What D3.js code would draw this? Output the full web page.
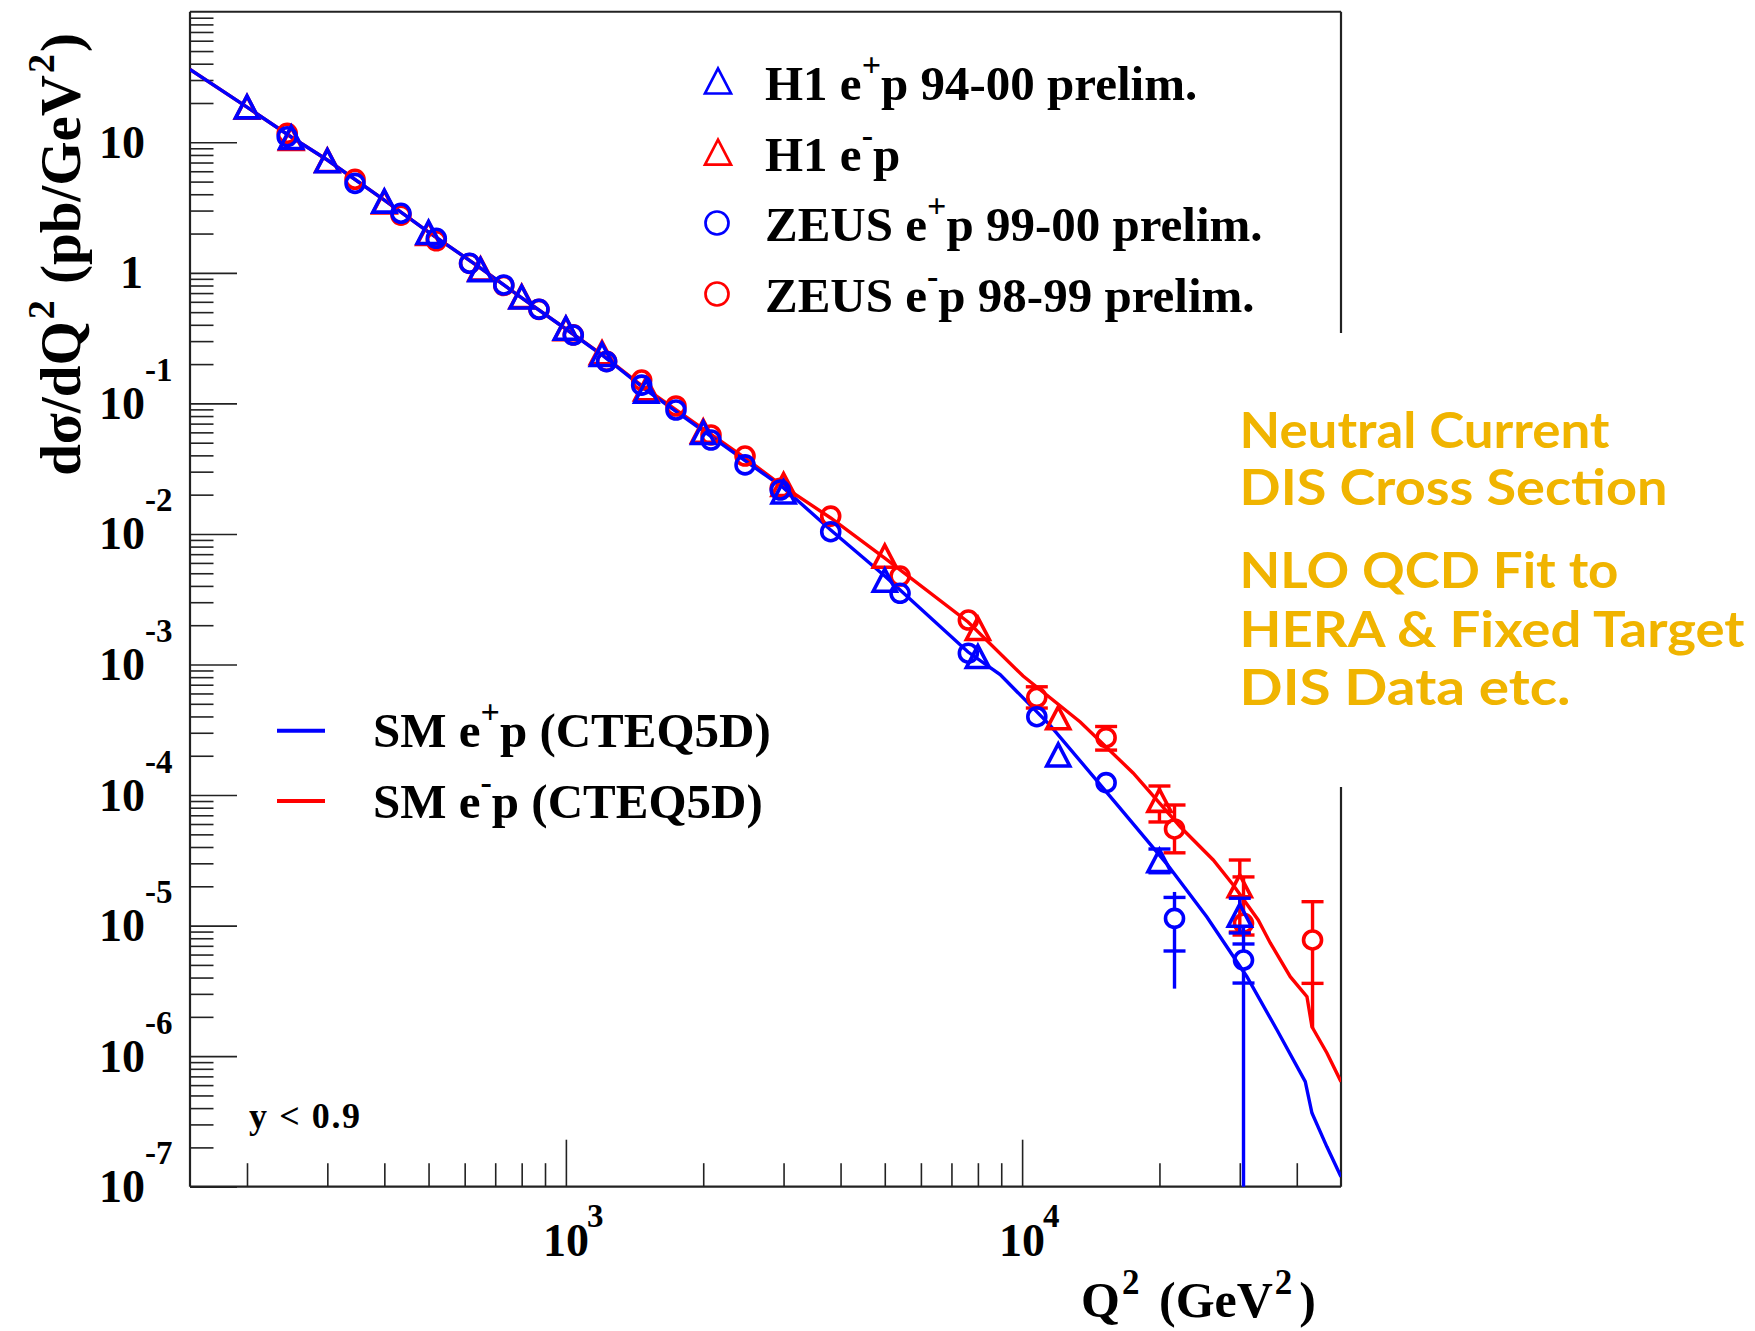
<!DOCTYPE html>
<html>
<head>
<meta charset="utf-8">
<script src="https://d3js.org/d3.v7.min.js"></script>
<style>
  body { margin: 0; background: #fff; }
  svg { display: block; }
  text { font-family: "Liberation Serif", "Times New Roman", serif; font-weight: bold; fill: #000; }
  .note { font-family: "Comic Sans MS", "Lato", sans-serif; font-weight: bold; fill: #f0b400; }
</style>
</head>
<body>
<div id="vis"></div>
<script>
// ---- data ----
var h1PosQ2 = [200, 250, 300, 400, 500, 650, 800, 1000, 1200, 1500, 2000, 3000, 5000, 8000, 12000, 20000, 30000];
var h1PosXsec = [18.5, 10.8, 7.16, 3.51, 2.02, 1.05, 0.647, 0.373, 0.235, 0.123, 0.0593, 0.0208, 0.00438, 0.00114, 2.01e-4, 3.12e-5, 1.19e-5];

var h1NegQ2 = [200, 250, 300, 400, 500, 650, 800, 1000, 1200, 1500, 2000, 3000, 5000, 8000, 12000, 20000, 30000];
var h1NegXsec = [18.4, 10.6, 7.2, 3.46, 1.99, 1.06, 0.652, 0.37, 0.242, 0.128, 0.0607, 0.0237, 0.00669, 0.00187, 3.87e-4, 9.02e-5, 2.0e-5];

var zeusPosQ2 = [245, 345, 435, 520, 615, 731, 873, 1038, 1228, 1466, 1743, 2080, 2470, 2950, 3806, 5401, 7624, 10770, 15280, 21580, 30570];
var zeusPosXsec = [11.04, 4.85, 2.86, 1.84, 1.184, 0.807, 0.526, 0.334, 0.209, 0.138, 0.089, 0.0524, 0.0338, 0.0217, 0.0104, 0.00351, 0.00122, 3.98e-4, 1.245e-4, 1.135e-5, 5.45e-6];

var zeusNegQ2 = [245, 345, 435, 520, 615, 731, 873, 1038, 1228, 1466, 1743, 2080, 2470, 2950, 3806, 5401, 7624, 10770, 15280, 21580, 30570, 43310];
var zeusNegXsec = [11.72, 5.21, 2.77, 1.76, 1.18, 0.80, 0.525, 0.335, 0.21, 0.151, 0.0955, 0.0573, 0.0395, 0.0224, 0.0137, 0.00476, 0.00219, 5.6e-4, 2.75e-4, 5.5e-5, 1.042e-5, 7.76e-6];

// error bars: [Q2, value, total low, total high, stat low, stat high]
var h1PosErr = [[20000, 3.12e-5, 2.54e-5, 3.86e-5, 2.54e-5, 3.86e-5],
                [30000, 1.19e-5, 8.78e-6, 1.62e-5, 8.78e-6, 1.62e-5]];
var h1NegErr = [[20000, 9.02e-5, 6.22e-5, 1.173e-4, 6.22e-5, 1.173e-4],
                [30000, 2.0e-5, 8.93e-6, 3.18e-5, 8.93e-6, 3.18e-5]];
var zeusPosErr = [[21580, 1.135e-5, 3.29e-6, 1.81e-5, 6.39e-6, 1.644e-5],
                  [30570, 5.45e-6, 1e-9, 9.76e-6, 3.63e-6, 7.23e-6]];
var zeusNegErr = [[10770, 5.6e-4, 4.64e-4, 6.75e-4, 4.64e-4, 6.75e-4],
                  [15280, 2.75e-4, 2.21e-4, 3.35e-4, 2.21e-4, 3.35e-4],
                  [21580, 5.5e-5, 3.61e-5, 8.39e-5, 3.61e-5, 8.39e-5],
                  [30570, 1.042e-5, 8.47e-6, 2.36e-5, 8.47e-6, 2.36e-5],
                  [43310, 7.76e-6, 1.634e-6, 1.525e-5, 3.61e-6, 1.525e-5]];

// SM predictions (CTEQ5D)
var smPosQ2 = [150, 200, 250, 300, 400, 500, 650, 800, 1000, 1200, 1500, 2000, 3000, 3806, 5000, 7613, 8950, 11520, 16130, 20770, 25410, 31100, 36200, 41750, 43180, 46570, 50000];
var smPosXsec = [36.2, 18.6, 10.98, 7.32, 3.61, 2.055, 1.089, 0.642, 0.3715, 0.2348, 0.1266, 0.0615, 0.0225, 0.01072, 0.00477, 0.001246, 8.37e-4, 3.42e-4, 8.49e-5, 2.96e-5, 1.164e-5, 4.06e-6, 1.586e-6, 6.37e-7, 3.67e-7, 2.02e-7, 1.19e-7];
var smNegQ2 = [150, 200, 250, 300, 400, 500, 650, 800, 1000, 1200, 1500, 2000, 2469, 2947, 3806, 5000, 7613, 10050, 13410, 17510, 22210, 26240, 29020, 32920, 34990, 38700, 42110, 43180, 46570, 50000];
var smNegXsec = [36.2, 18.6, 10.98, 7.32, 3.61, 2.055, 1.089, 0.642, 0.3715, 0.236, 0.1289, 0.0637, 0.0382, 0.0241, 0.01325, 0.00654, 0.002116, 8.16e-4, 3.63e-4, 1.476e-4, 5.72e-5, 3.18e-5, 2.05e-5, 1.104e-5, 7.36e-6, 4.06e-6, 2.85e-6, 1.68e-6, 1.057e-6, 6.37e-7];

var yLabelExps = [1, 0, -1, -2, -3, -4, -5, -6, -7];
var xLabelExps = [3, 4];

var legendMarks = [
    {shape: 'tri', color: 'blue', parts: [['H1 e'], ['+', 1], ['p 94-00 prelim.']]},
    {shape: 'tri', color: 'red', parts: [['H1 e'], ['-', 1], ['p']]},
    {shape: 'circ', color: 'blue', parts: [['ZEUS e'], ['+', 1], ['p 99-00 prelim.']]},
    {shape: 'circ', color: 'red', parts: [['ZEUS e'], ['-', 1], ['p 98-99 prelim.']]}
];
var legendLines = [
    {color: 'blue', parts: [['SM e'], ['+', 1], ['p (CTEQ5D)']]},
    {color: 'red', parts: [['SM e'], ['-', 1], ['p (CTEQ5D)']]}
];
var noteLines = ['Neutral Current', 'DIS Cross Section', 'NLO QCD Fit to', 'HERA & Fixed Target', 'DIS Data etc.'];

// ---- layout ----
var width = 1755, height = 1331;
var plot = {left: 190, right: 1341, top: 11.75, bottom: 1186.7};
var majorLen = 47, minorLen = 23.5;

var svg = d3.select('#vis').append('svg')
    .attr('width', width)
    .attr('height', height);

svg.append('rect').attr('width', width).attr('height', height).attr('fill', '#fff');

var xScale = d3.scaleLog().domain([150, 50000]).range([plot.left, plot.right]);
var yScale = d3.scaleLog().domain([1e-7, 1e2]).range([plot.bottom, plot.top]);

svg.append('clipPath').attr('id', 'clip')
    .append('rect')
    .attr('x', plot.left).attr('y', plot.top)
    .attr('width', plot.right - plot.left)
    .attr('height', plot.bottom - plot.top);

// helper for text with superscripts
var addRich = function(textSel, parts, supSize, rise, supGap, afterGap) {
    var up = false;
    parts.forEach(function(p) {
        var t = textSel.append('tspan').text(p[0]);
        if (p[1]) {
            t.attr('font-size', supSize).attr('dy', -rise).attr('dx', supGap || 0);
            up = true;
        } else if (up) {
            t.attr('dy', rise).attr('dx', afterGap || 0);
            up = false;
        }
    });
};

// ---- axes ticks ----
var yMajors = d3.range(-7, 2).map(function(e) { return Math.pow(10, e); });
var yMinors = [];
d3.range(-7, 2).forEach(function(e) {
    for (var k = 2; k <= 9; k++) yMinors.push(k * Math.pow(10, e));
});
var xMajors = [1000, 10000];
var xMinors = [200, 300, 400, 500, 600, 700, 800, 900, 2000, 3000, 4000, 5000, 6000, 7000, 8000, 9000, 20000, 30000, 40000];

var yMajorAxis = d3.axisLeft(yScale).tickValues(yMajors).tickSize(-majorLen).tickFormat('');
var yMinorAxis = d3.axisLeft(yScale).tickValues(yMinors).tickSize(-minorLen).tickFormat('');
var xMajorAxis = d3.axisBottom(xScale).tickValues(xMajors).tickSize(-majorLen).tickFormat('');
var xMinorAxis = d3.axisBottom(xScale).tickValues(xMinors).tickSize(-minorLen).tickFormat('');

var styleAxis = function(g) {
    g.select('.domain').remove();
    g.selectAll('line').attr('stroke', '#222').attr('stroke-width', 1.6);
};

svg.append('g').attr('transform', 'translate(' + plot.left + ',0)').call(yMajorAxis).call(styleAxis);
svg.append('g').attr('transform', 'translate(' + plot.left + ',0)').call(yMinorAxis).call(styleAxis);
svg.append('g').attr('transform', 'translate(0,' + plot.bottom + ')').call(xMajorAxis).call(styleAxis);
svg.append('g').attr('transform', 'translate(0,' + plot.bottom + ')').call(xMinorAxis).call(styleAxis);

// frame (right side interrupted by the note box)
var frame = svg.append('g').attr('stroke', '#222').attr('stroke-width', 2.2).attr('fill', 'none');
frame.append('line').attr('x1', plot.left).attr('x2', plot.right).attr('y1', plot.top).attr('y2', plot.top);
frame.append('line').attr('x1', plot.left).attr('x2', plot.right).attr('y1', plot.bottom).attr('y2', plot.bottom);
frame.append('line').attr('x1', plot.left).attr('x2', plot.left).attr('y1', plot.top).attr('y2', plot.bottom);
frame.append('line').attr('x1', plot.right).attr('x2', plot.right).attr('y1', plot.top).attr('y2', 333);
frame.append('line').attr('x1', plot.right).attr('x2', plot.right).attr('y1', 787).attr('y2', plot.bottom);

// y tick labels
yLabelExps.forEach(function(e) {
    var y = yScale(Math.pow(10, e));
    if (e === 0) {
        svg.append('text').attr('x', 143).attr('y', y + 15.5).attr('text-anchor', 'end')
            .attr('font-size', 46).text('1');
    } else {
        svg.append('text').attr('x', 145).attr('y', y + 15.5).attr('text-anchor', 'end')
            .attr('font-size', 46).text('10');
        if (e !== 1) {
            svg.append('text').attr('x', 145).attr('y', y - 22.5)
                .attr('font-size', 33).text(String(e));
        }
    }
});

// x tick labels
xLabelExps.forEach(function(e) {
    var x = xScale(Math.pow(10, e));
    svg.append('text').attr('x', x).attr('y', 1256).attr('text-anchor', 'middle')
        .attr('font-size', 46).text('10');
    svg.append('text').attr('x', x + 21).attr('y', 1226.5)
        .attr('font-size', 33).text(String(e));
});

// axis titles
var yTitle = svg.append('text')
    .attr('transform', 'translate(80,33) rotate(-90)')
    .attr('text-anchor', 'end')
    .attr('font-size', 57);
addRich(yTitle, [['d\u03c3/dQ'], ['2', 1], [' (pb/GeV'], ['2', 1], [')']], 38, 26, 2, 2);

var xTitle = svg.append('text')
    .attr('x', 1316).attr('y', 1316.7)
    .attr('text-anchor', 'end')
    .attr('font-size', 50);
addRich(xTitle, [['Q'], ['2', 1], [' (GeV'], ['2', 1], [')']], 35, 23, 2, 7);

// ---- curves ----
var line = d3.line()
    .x(function(d) { return xScale(d[0]); })
    .y(function(d) { return yScale(d[1]); });

var plotArea = svg.append('g').attr('clip-path', 'url(#clip)');

plotArea.append('path')
    .datum(d3.zip(smNegQ2, smNegXsec))
    .attr('d', line)
    .attr('fill', 'none').attr('stroke', 'red').attr('stroke-width', 3.4);
plotArea.append('path')
    .datum(d3.zip(smPosQ2, smPosXsec))
    .attr('d', line)
    .attr('fill', 'none').attr('stroke', 'blue').attr('stroke-width', 3.4);

// ---- markers ----
var triPath = function(cx, cy, s) {
    return 'M' + (cx - s) + ',' + (cy + s - 1) + 'L' + (cx + s) + ',' + (cy + s - 1) + 'L' + cx + ',' + (cy - s) + 'Z';
};

var drawErrors = function(errs, color, half) {
    errs.forEach(function(d) {
        var cx = xScale(d[0]), cy = yScale(d[1]);
        var yHi = yScale(d[3]), yLo = yScale(d[2]);
        if (yHi < cy - half) {
            plotArea.append('line').attr('x1', cx).attr('x2', cx).attr('y1', yHi).attr('y2', cy - half)
                .attr('stroke', color).attr('stroke-width', 3.4);
        }
        if (yLo > cy + half) {
            plotArea.append('line').attr('x1', cx).attr('x2', cx).attr('y1', cy + half).attr('y2', yLo)
                .attr('stroke', color).attr('stroke-width', 3.4);
        }
        [d[4], d[5]].forEach(function(v) {
            var yc = yScale(v);
            if (Math.abs(yc - cy) > half - 2) {
                plotArea.append('line').attr('x1', cx - 11).attr('x2', cx + 11).attr('y1', yc).attr('y2', yc)
                    .attr('stroke', color).attr('stroke-width', 3.4);
            }
        });
    });
};

var drawTriangles = function(q2, xs, color) {
    plotArea.selectAll(null).data(d3.zip(q2, xs)).enter().append('path')
        .attr('d', function(d) { return triPath(xScale(d[0]), yScale(d[1]), 11.5); })
        .attr('fill', 'none').attr('stroke', color).attr('stroke-width', 3.6);
};

var drawCircles = function(q2, xs, color) {
    plotArea.selectAll(null).data(d3.zip(q2, xs)).enter().append('circle')
        .attr('cx', function(d) { return xScale(d[0]); })
        .attr('cy', function(d) { return yScale(d[1]); })
        .attr('r', 9)
        .attr('fill', 'none').attr('stroke', color).attr('stroke-width', 3.6);
};

drawErrors(h1NegErr, 'red', 11);
drawTriangles(h1NegQ2, h1NegXsec, 'red');
drawErrors(zeusNegErr, 'red', 10);
drawCircles(zeusNegQ2, zeusNegXsec, 'red');
drawErrors(h1PosErr, 'blue', 11);
drawTriangles(h1PosQ2, h1PosXsec, 'blue');
drawErrors(zeusPosErr, 'blue', 10);
drawCircles(zeusPosQ2, zeusPosXsec, 'blue');

// ---- legend with markers ----
var legendY = [81.5, 152.7, 223, 294];
legendMarks.forEach(function(d, i) {
    var cy = legendY[i];
    if (d.shape === 'tri') {
        svg.append('path').attr('d', triPath(718, cy, 13))
            .attr('fill', 'none').attr('stroke', d.color).attr('stroke-width', 2.7);
    } else {
        svg.append('circle').attr('cx', 717).attr('cy', cy).attr('r', 11.5)
            .attr('fill', 'none').attr('stroke', d.color).attr('stroke-width', 2.7);
    }
    var t = svg.append('text').attr('x', 765).attr('y', cy + 18).attr('font-size', 49);
    addRich(t, d.parts, 34, 24);
});

// ---- legend with lines ----
var lineLegendY = [730.7, 801];
legendLines.forEach(function(d, i) {
    var cy = lineLegendY[i];
    svg.append('line').attr('x1', 277).attr('x2', 325).attr('y1', cy).attr('y2', cy)
        .attr('stroke', d.color).attr('stroke-width', 4);
    var t = svg.append('text').attr('x', 373).attr('y', cy + 16.6).attr('font-size', 49);
    addRich(t, d.parts, 34, 24);
});

// cut label
svg.append('text').attr('x', 249).attr('y', 1128).attr('font-size', 36)
    .attr('textLength', 111).attr('lengthAdjust', 'spacing').text('y < 0.9');

// ---- annotation box ----
var noteY = [447.7, 505, 588, 646.7, 705];
var noteW = [370, 428, 379, 505, 331];
noteLines.forEach(function(s, i) {
    svg.append('text').attr('class', 'note')
        .attr('x', 1239.5).attr('y', noteY[i])
        .attr('font-size', 50)
        .attr('textLength', noteW[i])
        .attr('lengthAdjust', 'spacingAndGlyphs')
        .text(s);
});
</script>
</body>
</html>
